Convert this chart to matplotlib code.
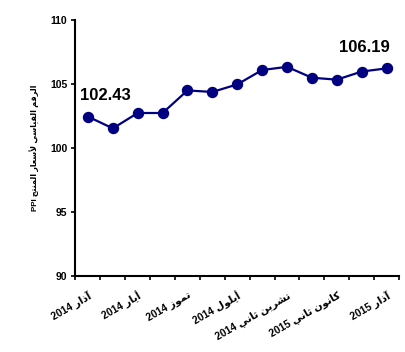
"""PPI index, March 2014 - March 2015 (Arabic labels)."""

import matplotlib

matplotlib.use("Agg")
import matplotlib.pyplot as plt

plt.rcParams["font.family"] = ["Liberation Sans", "DejaVu Sans"]

months = [
    "آذار 2014", "نيسان 2014", "أيار 2014", "حزيران 2014", "تموز 2014",
    "آب 2014", "أيلول 2014", "تشرين أول 2014", "تشرين ثاني 2014",
    "كانون أول 2014", "كانون ثاني 2015", "شباط 2015", "آذار 2015",
]
ppi = [102.43, 101.51, 102.71, 102.71, 104.47, 104.35, 104.94,
       106.06, 106.31, 105.46, 105.31, 105.94, 106.19]
shown_labels = ["آذار 2014", "أيار 2014", "تموز 2014", "أيلول 2014",
                "تشرين ثاني 2014", "كانون ثاني 2015", "آذار 2015"]
y_label = "الرقم القياسي لأسعار المنتج PPI"

# matplotlib does no arabic shaping / bidi, so do a tiny version of it here
# forms: isolated, final, initial, medial (None -> letter only joins to the right)
FORMS = {
    "ا": (0xFE8D, 0xFE8E, None, None),
    "آ": (0xFE81, 0xFE82, None, None),
    "أ": (0xFE83, 0xFE84, None, None),
    "ب": (0xFE8F, 0xFE90, 0xFE91, 0xFE92),
    "ت": (0xFE95, 0xFE96, 0xFE97, 0xFE98),
    "ث": (0xFE99, 0xFE9A, 0xFE9B, 0xFE9C),
    "ج": (0xFE9D, 0xFE9E, 0xFE9F, 0xFEA0),
    "ح": (0xFEA1, 0xFEA2, 0xFEA3, 0xFEA4),
    "ذ": (0xFEAB, 0xFEAC, None, None),
    "ر": (0xFEAD, 0xFEAE, None, None),
    "ز": (0xFEAF, 0xFEB0, None, None),
    "س": (0xFEB1, 0xFEB2, 0xFEB3, 0xFEB4),
    "ش": (0xFEB5, 0xFEB6, 0xFEB7, 0xFEB8),
    "ط": (0xFEC1, 0xFEC2, 0xFEC3, 0xFEC4),
    "ع": (0xFEC9, 0xFECA, 0xFECB, 0xFECC),
    "ق": (0xFED5, 0xFED6, 0xFED7, 0xFED8),
    "ك": (0xFED9, 0xFEDA, 0xFEDB, 0xFEDC),
    "ل": (0xFEDD, 0xFEDE, 0xFEDF, 0xFEE0),
    "م": (0xFEE1, 0xFEE2, 0xFEE3, 0xFEE4),
    "ن": (0xFEE5, 0xFEE6, 0xFEE7, 0xFEE8),
    "و": (0xFEED, 0xFEEE, None, None),
    "ي": (0xFEF1, 0xFEF2, 0xFEF3, 0xFEF4),
    "لأ": (0xFEF7, 0xFEF8, None, None),
    "لا": (0xFEFB, 0xFEFC, None, None),
    "لآ": (0xFEF5, 0xFEF6, None, None),
}


def shape(word):
    units, i = [], 0
    while i < len(word):
        if word[i:i + 2] in FORMS and i + 1 < len(word):
            units.append(word[i:i + 2])
            i += 2
        else:
            units.append(word[i])
            i += 1
    out = []
    for k, u in enumerate(units):
        f = FORMS[u]
        prev = k > 0 and FORMS[units[k - 1]][2] is not None
        nxt = k < len(units) - 1 and f[2] is not None
        idx = 3 if (prev and nxt) else 1 if prev else 2 if nxt else 0
        out.append(chr(f[idx]))
    return "".join(reversed(out))


def rtl(text):
    words = [shape(w) if w[0] in FORMS else w for w in text.split()]
    return " ".join(reversed(words))


fig = plt.figure(figsize=(4.05, 3.52), dpi=100)
ax = fig.add_axes([0.1864, 0.2159, 0.7988, 0.7287])

x = list(range(len(ppi)))
ax.plot(x, ppi, color="#000080", linewidth=1.6, marker="o", markersize=7.2)

ax.set_xlim(-0.5, len(ppi) - 0.5)
ax.set_ylim(90, 110)
ax.set_yticks([90, 95, 100, 105, 110])

ticks = [months.index(m) for m in shown_labels]
ax.set_xticks(ticks)
ax.set_xticklabels([rtl(m) for m in shown_labels], rotation=30, ha="right",
                   va="top", rotation_mode="anchor", fontsize=7.5,
                   fontweight="bold")
ax.set_xticks([i - 0.5 for i in range(len(ppi) + 1)], minor=True)
ax.tick_params(axis="x", which="major", length=0, pad=10)
ax.tick_params(axis="x", which="minor", length=3, width=1.2, direction="out")
ax.tick_params(axis="y", length=3, width=1.2, pad=3, labelsize=7.5)
for lab in ax.get_yticklabels():
    lab.set_fontweight("bold")

for side in ("top", "right"):
    ax.spines[side].set_visible(False)
for side in ("left", "bottom"):
    ax.spines[side].set_linewidth(1.5)

ax.set_ylabel(rtl(y_label), fontsize=5.8, fontweight="bold", labelpad=8)

ax.annotate(f"{ppi[0]:.2f}", (0, ppi[0]), xytext=(17, 21),
            textcoords="offset pixels", ha="center", va="center",
            fontsize=12, fontweight="bold")
ax.annotate(f"{ppi[-1]:.2f}", (len(ppi) - 1, ppi[-1]), xytext=(-22, 21),
            textcoords="offset pixels", ha="center", va="center",
            fontsize=12, fontweight="bold")

fig.savefig("out.png", dpi=100)
